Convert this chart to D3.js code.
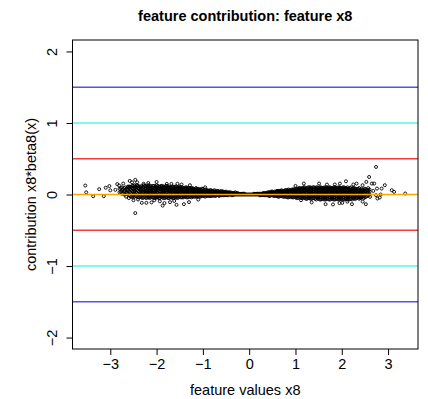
<!DOCTYPE html>
<html>
<head>
<meta charset="utf-8">
<script src="https://cdn.jsdelivr.net/npm/d3@7"></script>
<style>
    body { margin: 0; background: #fff; }
    text { font-family: "Liberation Sans", Arial, Helvetica, sans-serif; fill: #000; }
</style>
</head>
<body>
<div id="chart" style="width:428px;height:399px;"></div>
<script>
// dense core: x positions and the y values stacked at each of them
const coreX = [-2.80, -2.75, -2.70, -2.65, -2.60, -2.55, -2.50, -2.45, -2.40, -2.35, -2.30, -2.25, -2.20, -2.15, -2.10, -2.05,
    -2.00, -1.95, -1.90, -1.85, -1.80, -1.75, -1.70, -1.65, -1.60, -1.55, -1.50, -1.45, -1.40, -1.35, -1.30, -1.25,
    -1.20, -1.15, -1.10, -1.05, -1.00, -0.95, -0.90, -0.85, -0.80, -0.75, -0.70, -0.65, -0.60, -0.55, -0.50, -0.45,
    -0.40, -0.35, -0.30, -0.25, -0.20, -0.15, -0.10, -0.05, 0.00, 0.05, 0.10, 0.15, 0.20, 0.25, 0.30, 0.35,
    0.40, 0.45, 0.50, 0.55, 0.60, 0.65, 0.70, 0.75, 0.80, 0.85, 0.90, 0.95, 1.00, 1.05, 1.10, 1.15,
    1.20, 1.25, 1.30, 1.35, 1.40, 1.45, 1.50, 1.55, 1.60, 1.65, 1.70, 1.75, 1.80, 1.85, 1.90, 1.95,
    2.00, 2.05, 2.10, 2.15, 2.20, 2.25, 2.30, 2.35, 2.40, 2.45, 2.50, 2.55, 2.60];
const coreY = [
    [.03, .08], [.01, .06, .10], [.00, .05, .09], [.02, .07], [-.01, .04, .09, .11],
    [-.03, .02, .06, .10], [-.04, .00, .04, .08, .12], [-.02, .03, .07, .11], [-.04, .01, .05, .09, .12], [-.03, .02, .06, .10],
    [-.05, -.01, .03, .07, .11], [-.03, .01, .04, .08, .12], [-.04, .00, .03, .06, .09, .12], [-.05, -.02, .02, .05, .08, .11], [-.03, .00, .04, .07, .10],
    [-.05, -.01, .02, .05, .09, .12], [-.04, .00, .03, .06, .10, .13], [-.05, -.02, .01, .05, .08, .11], [-.03, .00, .04, .07, .10, .12], [-.05, -.01, .02, .06, .09, .11],
    [-.04, .00, .03, .06, .09, .12], [-.05, -.02, .02, .05, .08, .11], [-.03, .01, .04, .07, .10], [-.05, -.01, .02, .05, .08, .11], [-.04, .00, .03, .06, .09, .11],
    [-.05, -.02, .01, .04, .07, .10], [-.03, .00, .03, .06, .09, .11], [-.04, -.01, .02, .05, .08, .10], [-.03, .00, .03, .06, .09], [-.04, -.01, .02, .05, .08, .10],
    [-.03, .00, .03, .06, .09], [-.04, -.01, .02, .04, .07, .09], [-.03, .00, .03, .06, .08], [-.03, -.01, .02, .04, .07, .09], [-.02, .01, .03, .06, .08],
    [-.03, .00, .02, .05, .07], [-.02, .01, .03, .05, .08], [-.03, .00, .02, .04, .07], [-.02, .01, .03, .05, .06], [-.02, .00, .02, .04, .06],
    [-.02, .01, .03, .05], [-.02, .00, .02, .04, .06], [-.01, .01, .03, .05], [-.02, .00, .02, .04], [-.01, .01, .03, .05],
    [-.01, .01, .02, .04], [-.01, .00, .02, .04], [-.01, .01, .03], [.00, .01, .03], [-.01, .01, .02],
    [.00, .01, .03], [.00, .02], [.00, .01], [.00, .01], [.00, .01],
    [.00], [.00], [.00], [.00, .01], [.00, .01],
    [.00, .01], [-.01, .01], [-.01, .00, .02], [-.01, .01, .02], [-.01, .01, .03],
    [-.02, .00, .02, .03], [-.01, .01, .03, .04], [-.02, .00, .02, .04], [-.02, .00, .02, .04, .05], [-.03, -.01, .01, .03, .05],
    [-.02, .00, .02, .04, .06], [-.03, -.01, .01, .03, .05], [-.03, .00, .02, .04, .06], [-.04, -.01, .01, .03, .05, .07], [-.03, .00, .02, .04, .06],
    [-.04, -.01, .01, .04, .07], [-.04, -.01, .02, .04, .06, .08], [-.05, -.02, .01, .03, .06, .08], [-.04, -.01, .02, .05, .07, .09], [-.05, -.02, .01, .03, .06, .09],
    [-.05, -.01, .02, .05, .07, .10], [-.06, -.03, .00, .03, .06, .09], [-.05, -.02, .01, .04, .07, .10], [-.06, -.03, .00, .03, .06, .09], [-.05, -.02, .01, .04, .07, .10],
    [-.07, -.04, -.01, .02, .05, .08, .10], [-.06, -.03, .00, .03, .06, .09], [-.07, -.04, -.01, .02, .05, .08, .10], [-.06, -.03, .00, .03, .06, .09], [-.07, -.04, -.01, .02, .05, .08, .10],
    [-.06, -.02, .01, .04, .07, .09], [-.07, -.04, -.01, .02, .05, .08, .10], [-.06, -.03, .00, .03, .06, .09], [-.07, -.04, -.01, .02, .05, .08, .10], [-.06, -.03, .00, .03, .06, .09],
    [-.07, -.04, -.01, .03, .06, .09, .10], [-.06, -.02, .01, .04, .07, .09], [-.07, -.04, -.01, .02, .05, .08, .10], [-.06, -.03, .00, .03, .06, .09], [-.07, -.04, -.01, .02, .05, .08],
    [-.06, -.02, .01, .04, .07, .10], [-.05, -.02, .01, .04, .07, .09], [-.06, -.03, .00, .03, .06, .08], [-.04, -.01, .02, .05, .08], [-.05, -.02, .01, .04, .07],
    [-.03, .00, .03, .06], [-.04, .01, .05, .08], [-.02, .02, .06], [.00, .04, .07]
];

// second layer of the core, between the columns above: [x, [y values]]
const coreMid = [
    [-2.775, [.04, .09]], [-2.725, [.02, .07]], [-2.675, [.00, .05, .10]], [-2.625, [.01, .06, .10]], [-2.575, [-.02, .03, .07, .11]],
    [-2.525, [-.03, .01, .05, .09, .12]], [-2.475, [-.03, .01, .05, .09, .13]], [-2.425, [-.03, .02, .06, .10, .13]], [-2.375, [-.04, .00, .04, .08, .11]], [-2.325, [-.04, .00, .04, .08, .12]],
    [-2.275, [-.04, .00, .03, .06, .10, .13]], [-2.225, [-.05, -.01, .02, .05, .08, .11]], [-2.175, [-.04, -.01, .02, .05, .08, .11, .13]], [-2.125, [-.04, .00, .03, .06, .09, .12]], [-2.075, [-.04, -.01, .02, .06, .09, .12]],
    [-2.025, [-.05, -.02, .01, .04, .07, .11]], [-1.975, [-.04, -.01, .02, .06, .09, .12]], [-1.925, [-.05, -.02, .01, .04, .08, .11]], [-1.875, [-.04, -.01, .03, .05, .08, .12]], [-1.825, [-.05, -.02, .01, .04, .07, .10]],
    [-1.775, [-.04, -.01, .03, .06, .09, .12]], [-1.725, [-.05, -.02, .01, .04, .07, .10]], [-1.675, [-.04, -.01, .03, .06, .09, .11]], [-1.625, [-.05, -.02, .01, .04, .07, .10]], [-1.575, [-.04, -.01, .02, .05, .08, .11]],
    [-1.525, [-.04, -.01, .02, .05, .08, .10]], [-1.475, [-.04, -.01, .02, .04, .07, .10]], [-1.425, [-.04, -.02, .01, .04, .07, .09]], [-1.375, [-.03, .00, .02, .05, .08, .10]], [-1.325, [-.04, -.01, .01, .04, .07, .09]],
    [-1.275, [-.03, .00, .03, .05, .08]], [-1.225, [-.03, -.01, .02, .05, .07, .09]], [-1.175, [-.03, .00, .02, .04, .07]], [-1.125, [-.03, -.01, .01, .04, .06, .08]], [-1.075, [-.03, .00, .02, .04, .07]],
    [-1.025, [-.02, .00, .02, .04, .06, .08]], [-0.975, [-.02, .00, .02, .04, .06]], [-0.925, [-.02, .00, .02, .04, .06]], [-0.875, [-.02, .00, .02, .03, .05]], [-0.825, [-.02, .00, .02, .04, .06]],
    [-0.775, [-.01, .01, .03, .05]], [-0.725, [-.02, .00, .02, .04]], [-0.675, [-.01, .01, .03, .05]], [-0.625, [-.01, .01, .02, .04]], [-0.575, [-.01, .00, .02, .04]],
    [-0.525, [-.01, .01, .03]], [-0.475, [-.01, .01, .02, .03]], [-0.425, [.00, .02, .03]], [-0.375, [-.01, .00, .02]], [-0.325, [.00, .01, .02]],
    [-0.275, [.00, .01, .02]], [-0.225, [.00, .01]], [-0.175, [.00, .01]], [-0.125, [.00, .01]], [-0.075, [.00]],
    [-0.025, [.00]], [0.025, [.00]], [0.075, [.00]], [0.125, [.00, .01]], [0.175, [.00, .01]],
    [0.225, [-.01, .00, .01]], [0.275, [-.01, .00, .01]], [0.325, [-.01, .01, .02]], [0.375, [-.01, .00, .02]], [0.425, [-.02, .00, .02, .03]],
    [0.475, [-.01, .01, .02, .04]], [0.525, [-.02, .00, .02, .03]], [0.575, [-.02, .01, .03, .04]], [0.625, [-.03, -.01, .01, .03, .05]], [0.675, [-.02, .00, .02, .04, .05]],
    [0.725, [-.03, -.01, .01, .03, .05]], [0.775, [-.03, .00, .02, .04, .06]], [0.825, [-.04, -.01, .01, .03, .05, .06]], [0.875, [-.03, .00, .02, .04, .06]], [0.925, [-.04, -.02, .01, .03, .05, .07]],
    [0.975, [-.03, .00, .02, .05, .07]], [1.025, [-.05, -.02, .00, .03, .05, .07]], [1.075, [-.04, -.01, .02, .04, .07, .09]], [1.125, [-.05, -.03, .00, .03, .06, .08]], [1.175, [-.04, -.01, .02, .05, .08, .10]],
    [1.225, [-.06, -.03, .00, .03, .06, .08]], [1.275, [-.05, -.02, .01, .04, .07, .10]], [1.325, [-.06, -.03, .00, .02, .05, .08, .10]], [1.375, [-.05, -.02, .01, .04, .07, .10]], [1.425, [-.06, -.03, .00, .03, .06, .09]],
    [1.475, [-.05, -.02, .01, .04, .07, .10]], [1.525, [-.07, -.04, -.01, .02, .05, .08, .10]], [1.575, [-.06, -.02, .01, .04, .07, .09]], [1.625, [-.07, -.04, -.01, .02, .05, .08, .10]], [1.675, [-.06, -.03, .00, .03, .06, .09]],
    [1.725, [-.07, -.04, -.01, .02, .05, .08, .10]], [1.775, [-.06, -.03, .00, .03, .06, .09]], [1.825, [-.07, -.04, -.01, .02, .05, .08, .10]], [1.875, [-.06, -.02, .01, .04, .07, .09]], [1.925, [-.07, -.04, -.01, .02, .05, .08, .10]],
    [1.975, [-.06, -.03, .00, .03, .06, .09]], [2.025, [-.07, -.04, -.01, .02, .05, .08, .10]], [2.075, [-.06, -.02, .01, .04, .07, .09]], [2.125, [-.07, -.04, -.01, .02, .05, .08, .10]], [2.175, [-.06, -.03, .00, .03, .06, .09]],
    [2.225, [-.07, -.04, -.01, .02, .05, .08]], [2.275, [-.06, -.03, .00, .03, .06, .09]], [2.325, [-.05, -.02, .01, .04, .07]], [2.375, [-.06, -.03, .00, .03, .06, .09]], [2.425, [-.04, -.01, .02, .05, .08]],
    [2.475, [-.05, -.02, .02, .05, .07]], [2.525, [-.03, .01, .04, .07]], [2.575, [-.01, .03, .06]]
];

// scattered points outside the core
const outlierX = [-3.54, -3.52, -3.37, -3.24, -3.14, -3.10, -3.02, -3.00, -2.89, -2.85, -2.81, -2.72, -2.58, -2.53, -2.46, -2.46,
    -2.60, -2.50, -2.32, -2.22, -2.11, -1.93, -1.87, -1.71, -1.57, -1.41, -1.30, -2.00, -2.18, -1.78, -1.68, -1.46,
    -1.28, -2.62, -2.66, -2.40, -2.05, -1.83, -1.62, -1.10, -0.95, -2.28, -1.55, -2.42,
    2.74, 2.59, 2.53, 2.65, 2.70, 2.76, 2.86, 2.93, 3.08, 3.13, 3.37, 2.77, 2.82, 2.74, 2.61, 2.52,
    2.41, 2.22, 2.01, 1.81, 1.65, 2.32, 2.09, 1.68, 1.51, 1.18, 1.96, 2.84, 2.68, 2.57, 1.35, 1.95,
    2.12, 1.12, 2.45, 1.85, 2.25, 2.45, 1.00];
const outlierY = [0.125, 0.030, -0.024, 0.075, -0.024, 0.095, 0.118, 0.058, 0.065, 0.145, 0.125, 0.153, 0.190, 0.170, 0.205, -0.260,
    -0.050, -0.080, -0.117, -0.117, -0.111, -0.095, -0.155, -0.107, -0.145, -0.135, -0.107, 0.175, 0.160, 0.148, 0.148, 0.140,
    0.130, 0.110, -0.030, -0.070, -0.080, -0.120, -0.090, -0.070, 0.100, 0.150, 0.150, 0.170,
    0.385, 0.245, 0.176, 0.153, 0.153, 0.083, 0.083, 0.130, 0.060, 0.037, 0.014, -0.056, -0.042, -0.010, -0.033, -0.135,
    -0.047, -0.135, -0.117, -0.139, -0.135, 0.153, 0.185, 0.139, 0.153, 0.153, 0.153, 0.000, 0.050, 0.090, -0.110, -0.120,
    -0.100, -0.080, 0.130, 0.140, 0.140, -0.100, 0.120];

// horizontal reference levels
const refLevels = [1.5, 1, 0.5, -0.5, -1, -1.5, 0];
const refColors = ["#5252ec", "#5ef2f2", "#f03c3c", "#f03c3c", "#5ef2f2", "#5252ec", "#ffa500"];

const xTicks = [-3, -2, -1, 0, 1, 2, 3];
const yTicks = [-2, -1, 0, 1, 2];
const yLimits = [-2, 2];

class ContributionPlot {
    constructor(parentElement) {
        this.parentElement = parentElement;
        this.points = [];
        coreX.forEach((x, i) => coreY[i].forEach(y => this.points.push({x: x, y: y})));
        coreMid.forEach(c => c[1].forEach(y => this.points.push({x: c[0], y: y})));
        outlierX.forEach((x, i) => this.points.push({x: x, y: outlierY[i]}));
        this.initVis();
    }

    initVis() {
        let vis = this;

        vis.margin = {top: 40, right: 10, bottom: 50, left: 72.5};
        vis.width = 428 - vis.margin.left - vis.margin.right;
        vis.height = 399 - vis.margin.top - vis.margin.bottom;

        vis.svg = d3.select("#" + vis.parentElement).append("svg")
            .attr("width", 428)
            .attr("height", 399)
            .append("g")
            .attr("transform", `translate(${vis.margin.left}, ${vis.margin.top})`);

        // R style limits: data range padded by 4% on each side
        let ext = d3.extent(vis.points, d => d.x);
        let pad = (ext[1] - ext[0]) * 0.04;
        vis.x = d3.scaleLinear().domain([ext[0] - pad, ext[1] + pad]).range([0, vis.width]);
        let ypad = (yLimits[1] - yLimits[0]) * 0.04;
        vis.y = d3.scaleLinear().domain([yLimits[0] - ypad, yLimits[1] + ypad]).range([vis.height, 0]);

        // points
        vis.svg.append("g")
            .selectAll("circle")
            .data(vis.points)
            .enter().append("circle")
            .attr("cx", d => vis.x(d.x))
            .attr("cy", d => vis.y(d.y))
            .attr("r", 1.5)
            .attr("fill", "none")
            .attr("stroke", "#000")
            .attr("stroke-width", 0.9);

        // reference lines
        vis.svg.append("g")
            .selectAll("line")
            .data(refLevels)
            .enter().append("line")
            .attr("x1", 0)
            .attr("x2", vis.width)
            .attr("y1", d => vis.y(d))
            .attr("y2", d => vis.y(d))
            .attr("stroke", (d, i) => refColors[i])
            .attr("stroke-width", 1.4);

        // axes
        let fmt = d => d < 0 ? "\u2212" + Math.abs(d) : String(d);
        let xAxis = vis.svg.append("g")
            .attr("transform", `translate(0, ${vis.height})`)
            .call(d3.axisBottom(vis.x).tickValues(xTicks).tickFormat(fmt).tickSize(6).tickSizeOuter(0));
        xAxis.select(".domain").remove();
        xAxis.selectAll("line").attr("stroke", "#000");
        xAxis.selectAll("text")
            .attr("font-family", "Liberation Sans, Arial, sans-serif")
            .attr("font-size", 14.5)
            .attr("y", 10)
            .attr("fill", "#000");

        let yAxis = vis.svg.append("g")
            .call(d3.axisLeft(vis.y).tickValues(yTicks).tickFormat(fmt).tickSize(6).tickSizeOuter(0));
        yAxis.select(".domain").remove();
        yAxis.selectAll("line").attr("stroke", "#000");
        yAxis.selectAll("text")
            .attr("font-family", "Liberation Sans, Arial, sans-serif")
            .attr("font-size", 14.5)
            .attr("x", null)
            .attr("dy", null)
            .attr("text-anchor", "middle")
            .attr("transform", "translate(-15.5, 0) rotate(-90)")
            .attr("fill", "#000");

        // box
        vis.svg.append("rect")
            .attr("x", 0)
            .attr("y", 0)
            .attr("width", vis.width)
            .attr("height", vis.height)
            .attr("fill", "none")
            .attr("stroke", "#000")
            .attr("stroke-width", 1);

        // titles
        vis.svg.append("text")
            .attr("x", vis.width / 2)
            .attr("y", -19.5)
            .attr("text-anchor", "middle")
            .attr("font-size", 14.5)
            .attr("font-weight", "bold")
            .text("feature contribution: feature x8");

        vis.svg.append("text")
            .attr("x", vis.width / 2)
            .attr("y", vis.height + 46)
            .attr("text-anchor", "middle")
            .attr("font-size", 14.5)
            .text("feature values x8");

        vis.svg.append("text")
            .attr("transform", `translate(-37, ${vis.height / 2}) rotate(-90)`)
            .attr("text-anchor", "middle")
            .attr("font-size", 14.5)
            .text("contribution  x8*beta8(x)");
    }
}

new ContributionPlot("chart");
</script>
</body>
</html>
